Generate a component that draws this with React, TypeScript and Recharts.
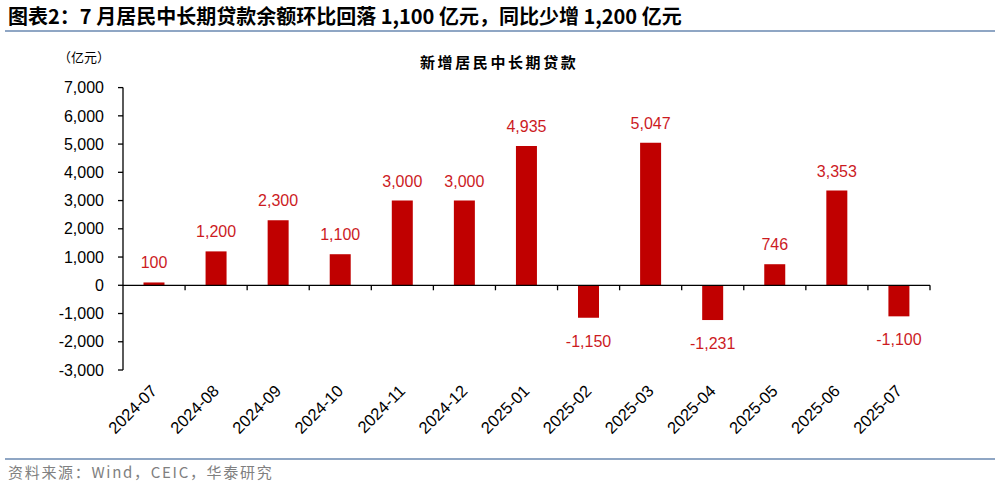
import React from "react";
import { BarChart, Bar, XAxis, YAxis, ReferenceLine, LabelList } from "recharts";

const categories = ["2024-07","2024-08","2024-09","2024-10","2024-11","2024-12","2025-01","2025-02","2025-03","2025-04","2025-05","2025-06","2025-07"];
const loanValues = [100, 1200, 2300, 1100, 3000, 3000, 4935, -1150, 5047, -1231, 746, 3353, -1100];
const yTicks = [-3000, -2000, -1000, 0, 1000, 2000, 3000, 4000, 5000, 6000, 7000];

const data = categories.map((c, i) => ({ month: c, value: loanValues[i] }));

const BAR_COLOR = "#C00000";
const LABEL_COLOR = "#CC1B1F";
const LINE_COLOR = "#8FA6C4";
const FONT = "'Liberation Sans', Arial, sans-serif";
const CJK = "'Noto Sans CJK SC', sans-serif";

const fmt = (v: number) => v.toLocaleString("en-US");

const ZeroLine = (props: any) => {
  const { x1, x2, y1 } = props;
  const n = categories.length;
  const step = (x2 - x1) / n;
  const ticks = [];
  for (let i = 1; i <= n; i++) {
    const x = x1 + step * i;
    ticks.push(<line key={i} x1={x} x2={x} y1={y1} y2={y1 + 5} stroke="#000" strokeWidth={1.3} />);
  }
  return (
    <g>
      <line x1={x1} x2={x2} y1={y1} y2={y1} stroke="#000" strokeWidth={1.3} />
      {ticks}
    </g>
  );
};

const BarLabel = (props: any) => {
  const { x, y, width, height, value } = props;
  const top = Math.min(y, y + height);
  const bottom = Math.max(y, y + height);
  const cx = x + width / 2;
  if (value >= 0) {
    return (
      <text x={cx} y={top - 14} textAnchor="middle" fill={LABEL_COLOR} fontSize={16} fontFamily={FONT}>
        {fmt(value)}
      </text>
    );
  }
  return (
    <text x={cx} y={bottom + 29} textAnchor="middle" fill={LABEL_COLOR} fontSize={16} fontFamily={FONT}>
      {fmt(value)}
    </text>
  );
};

const XTick = (props: any) => {
  const { x, y, payload } = props;
  return (
    <g transform={`translate(${x + 4},${y + 14})`}>
      <text x={0} y={0} textAnchor="end" transform="rotate(-45)" fontSize={16.5} fontFamily={FONT} fill="#000">
        {payload.value}
      </text>
    </g>
  );
};

export default function App() {
  return (
    <div style={{ position: "absolute", left: 0, top: 0, width: 1000, height: 489, background: "#fff", overflow: "hidden" }}>
      <div style={{ position: "absolute", left: 8, top: 2, fontFamily: CJK, fontWeight: 700, fontSize: 20, color: "#000", whiteSpace: "nowrap", lineHeight: "28px" }}>
        图表2：7 月居民中长期贷款余额环比回落 1,100 亿元，同比少增 1,200 亿元
      </div>
      <div style={{ position: "absolute", left: 5, top: 30, width: 990, height: 2, background: LINE_COLOR }} />
      <div style={{ position: "absolute", left: 58, top: 47, fontFamily: CJK, fontSize: 13, color: "#000", whiteSpace: "nowrap", lineHeight: "20px" }}>
        （亿元）
      </div>
      <div style={{ position: "absolute", left: 420, top: 52, fontFamily: CJK, fontWeight: 700, fontSize: 15, letterSpacing: 2.6, color: "#000", whiteSpace: "nowrap", lineHeight: "20px" }}>
        新增居民中长期贷款
      </div>
      <div style={{ position: "absolute", left: 0, top: 0 }}>
        <BarChart width={1000} height={489} data={data} margin={{ top: 87.6, right: 70, bottom: 0, left: 0 }} barCategoryGap="33%">
          <XAxis dataKey="month" axisLine={false} tickLine={false} interval={0} tick={<XTick />} height={119} />
          <YAxis
            domain={[-3000, 7000]}
            ticks={yTicks}
            interval={0}
            width={123}
            tickFormatter={fmt}
            tick={{ fontSize: 16, fontFamily: FONT, fill: "#000" }}
            tickSize={5}
            tickMargin={14}
            axisLine={{ stroke: "#000", strokeWidth: 1.3 }}
            tickLine={{ stroke: "#000", strokeWidth: 1.3 }}
          />
          <Bar dataKey="value" fill={BAR_COLOR} isAnimationActive={false}>
            <LabelList dataKey="value" content={<BarLabel />} />
          </Bar>
          <ReferenceLine y={0} shape={<ZeroLine />} />
        </BarChart>
      </div>
      <div style={{ position: "absolute", left: 5, top: 458, width: 990, height: 2, background: LINE_COLOR }} />
      <div style={{ position: "absolute", left: 8, top: 462, fontFamily: CJK, fontSize: 15, letterSpacing: 1.7, color: "#808080", whiteSpace: "nowrap", lineHeight: "20px" }}>
        资料来源：Wind，CEIC，华泰研究
      </div>
    </div>
  );
}
